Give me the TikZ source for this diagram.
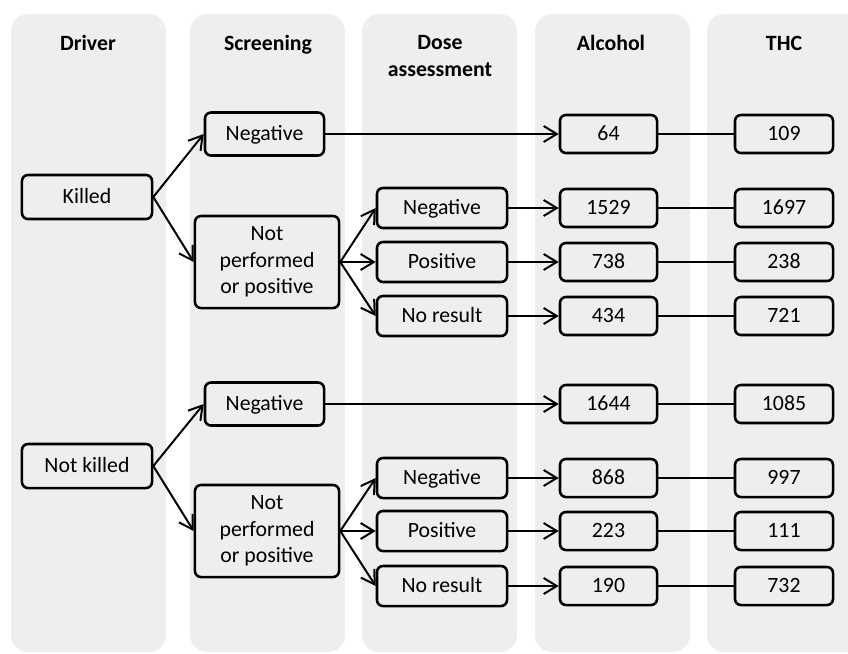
\documentclass[tikz,border=0pt]{standalone}
\usepackage{fontspec}
\setmainfont{Carlito}
\usetikzlibrary{arrows.meta}
\definecolor{colbg}{RGB}{238,238,238}
\tikzset{
  box/.style={draw=black, line width=1.8pt, rounded corners=0.15cm, fill=colbg,
    inner sep=0pt, font=\fontsize{15.5}{19}\selectfont},
  onebox/.style={box, text height=11.5pt, text depth=2.5pt},
  tallbox/.style={box, align=center, minimum width=3.6cm, minimum height=2.3cm},
  head/.style={align=center, font=\fontsize{15.5}{19}\selectfont\bfseries},
  arr/.style={line width=1.4pt, -{Straight Barb[length=3.3mm,width=4mm,line width=1.4pt]}},
  link/.style={line width=1.4pt},
}

\begin{document}
\begin{tikzpicture}[x=0.025cm, y=-0.025cm]
		%%%%% START %%%%%
		\useasboundingbox (0,0) rectangle (848,653);
		
		% columns
		\fill[colbg, rounded corners=0.43cm] (11,14) rectangle (166,652);
		\fill[colbg, rounded corners=0.43cm] (190,14) rectangle (345,652);
		\fill[colbg, rounded corners=0.43cm] (362,14) rectangle (517,652);
		\fill[colbg, rounded corners=0.43cm] (535,14) rectangle (690,652);
		\fill[colbg, rounded corners=0.43cm] (707,14) rectangle (862,652);
		
		\node[head, anchor=base] (hdriver) at (88,50) {Driver};
		\node[head, anchor=base] (hscreen) at (268,50) {Screening};
		\node[head] (hdose) at (440,56) {Dose\\assessment};
		\node[head, anchor=base] (halc) at (611,50) {Alcohol};
		\node[head, anchor=base] (hthc) at (784,50) {THC};
		
		% killed
		\node[onebox, minimum width=3.25cm, minimum height=1.1cm] (killA) at (87,197) {Killed};
		\node[onebox, minimum width=2.975cm, minimum height=1.075cm] (negA) at (264.5,134) {Negative};
		\node[tallbox] (npA) at (267,262) {Not\\performed\\or positive};
		\node[onebox, minimum width=3.25cm, minimum height=1cm] (dnegA) at (442,208) {Negative};
		\node[onebox, minimum width=3.25cm, minimum height=1cm] (dposA) at (442,262) {Positive};
		\node[onebox, minimum width=3.25cm, minimum height=1cm] (dnoA) at (442,316) {No result};
		\node[onebox, minimum width=2.425cm, minimum height=0.95cm] (alcA1) at (608.5,134) {64};
		\node[onebox, minimum width=2.425cm, minimum height=0.95cm] (alcA2) at (608.5,208) {1529};
		\node[onebox, minimum width=2.425cm, minimum height=0.95cm] (alcA3) at (608.5,262) {738};
		\node[onebox, minimum width=2.425cm, minimum height=0.95cm] (alcA4) at (608.5,316) {434};
		\node[onebox, minimum width=2.45cm, minimum height=0.95cm] (thcA1) at (784,134) {109};
		\node[onebox, minimum width=2.45cm, minimum height=0.95cm] (thcA2) at (784,208) {1697};
		\node[onebox, minimum width=2.45cm, minimum height=0.95cm] (thcA3) at (784,262) {238};
		\node[onebox, minimum width=2.45cm, minimum height=0.95cm] (thcA4) at (784,316) {721};
		
		\draw[arr] (killA.east) -- (negA.west);
		\draw[arr] (killA.east) -- (npA.west);
		\draw[arr] (npA.east) -- (dnegA.west);
		\draw[arr] (npA.east) -- (dposA.west);
		\draw[arr] (npA.east) -- (dnoA.west);
		\draw[arr] (negA.east) -- (alcA1.west);
		\draw[arr] (dnegA.east) -- (alcA2.west);
		\draw[arr] (dposA.east) -- (alcA3.west);
		\draw[arr] (dnoA.east) -- (alcA4.west);
		\draw[link] (alcA1.east) -- (thcA1.west);
		\draw[link] (alcA2.east) -- (thcA2.west);
		\draw[link] (alcA3.east) -- (thcA3.west);
		\draw[link] (alcA4.east) -- (thcA4.west);
		
		% not killed
		\node[onebox, minimum width=3.25cm, minimum height=1.1cm] (killB) at (87,466) {Not killed};
		\node[onebox, minimum width=2.975cm, minimum height=1.075cm] (negB) at (264.5,404) {Negative};
		\node[tallbox] (npB) at (267,531) {Not\\performed\\or positive};
		\node[onebox, minimum width=3.25cm, minimum height=1cm] (dnegB) at (442,478) {Negative};
		\node[onebox, minimum width=3.25cm, minimum height=1cm] (dposB) at (442,531) {Positive};
		\node[onebox, minimum width=3.25cm, minimum height=1cm] (dnoB) at (442,586) {No result};
		\node[onebox, minimum width=2.425cm, minimum height=0.95cm] (alcB1) at (608.5,404) {1644};
		\node[onebox, minimum width=2.425cm, minimum height=0.95cm] (alcB2) at (608.5,478) {868};
		\node[onebox, minimum width=2.425cm, minimum height=0.95cm] (alcB3) at (608.5,531) {223};
		\node[onebox, minimum width=2.425cm, minimum height=0.95cm] (alcB4) at (608.5,586) {190};
		\node[onebox, minimum width=2.45cm, minimum height=0.95cm] (thcB1) at (784,404) {1085};
		\node[onebox, minimum width=2.45cm, minimum height=0.95cm] (thcB2) at (784,478) {997};
		\node[onebox, minimum width=2.45cm, minimum height=0.95cm] (thcB3) at (784,531) {111};
		\node[onebox, minimum width=2.45cm, minimum height=0.95cm] (thcB4) at (784,586) {732};
		
		\draw[arr] (killB.east) -- (negB.west);
		\draw[arr] (killB.east) -- (npB.west);
		\draw[arr] (npB.east) -- (dnegB.west);
		\draw[arr] (npB.east) -- (dposB.west);
		\draw[arr] (npB.east) -- (dnoB.west);
		\draw[arr] (negB.east) -- (alcB1.west);
		\draw[arr] (dnegB.east) -- (alcB2.west);
		\draw[arr] (dposB.east) -- (alcB3.west);
		\draw[arr] (dnoB.east) -- (alcB4.west);
		\draw[link] (alcB1.east) -- (thcB1.west);
		\draw[link] (alcB2.east) -- (thcB2.west);
		\draw[link] (alcB3.east) -- (thcB3.west);
		\draw[link] (alcB4.east) -- (thcB4.west);
		%%%%% END %%%%%
	\end{tikzpicture}
\end{document}
